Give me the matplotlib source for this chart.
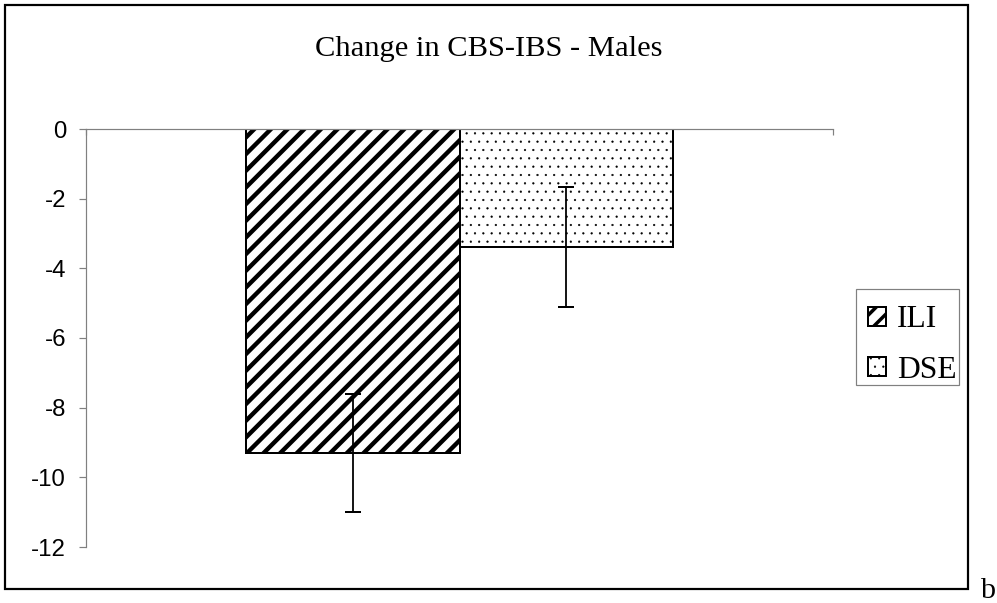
import matplotlib
matplotlib.use("Agg")
import matplotlib.pyplot as plt
from matplotlib.patches import Rectangle
import numpy as np

# ---- data ----
categories = [""]
series_names = ["ILI", "DSE"]
ili_values = [-9.3]
dse_values = [-3.38]
ili_err = [1.7]
dse_err = [1.72]
y_ticks = [0, -2, -4, -6, -8, -10, -12]
title = "Change in CBS-IBS - Males"
panel_label = "b"

DPI = 100
W, H = 997, 603


def px(v):
    """pixels -> points"""
    return v * 72.0 / DPI


fig = plt.figure(figsize=(W / DPI, H / DPI), dpi=DPI)
fig.patch.set_facecolor("white")

ax = fig.add_axes([86 / W, 1 - 547 / H, (833 - 86) / W, (547 - 129) / H])
ax.set_facecolor("none")

x = np.arange(len(categories))
width = 0.2857


def set_hlw(patches, lw):
    for p in patches:
        if hasattr(p, "set_hatch_linewidth"):
            p.set_hatch_linewidth(lw)


lw_ili = px(4.4)
lw_dse = px(0.5)
with plt.rc_context({"hatch.linewidth": lw_ili}):
    b1 = ax.bar(x - width / 2, ili_values, width, facecolor="white",
                edgecolor="black", linewidth=px(2), hatch="//", label=series_names[0],
                zorder=2)
set_hlw(b1.patches, lw_ili)
with plt.rc_context({"hatch.linewidth": lw_dse}):
    b2 = ax.bar(x + width / 2, dse_values, width, facecolor="white",
                edgecolor="black", linewidth=px(2), hatch="..", label=series_names[1],
                zorder=2)
set_hlw(b2.patches, lw_dse)

ax.errorbar(x - width / 2, ili_values, yerr=ili_err, fmt="none", ecolor="black",
            elinewidth=px(1.8), capsize=px(8), capthick=px(2), zorder=3)
ax.errorbar(x + width / 2, dse_values, yerr=dse_err, fmt="none", ecolor="black",
            elinewidth=px(1.8), capsize=px(8), capthick=px(2), zorder=3)

ax.set_xlim(-0.5, len(categories) - 0.5)
ax.set_ylim(-12, 0)

for s in ["right", "bottom"]:
    ax.spines[s].set_visible(False)
for s in ["left", "top"]:
    ax.spines[s].set_color("#808080")
    ax.spines[s].set_linewidth(px(1.2))

ax.xaxis.tick_top()
ax.set_xticks([-0.5, 0.5])
ax.set_xticklabels([])
ax.tick_params(axis="x", direction="in", length=px(6), color="#808080", width=px(1.2))

ax.set_yticks(y_ticks)
ax.set_yticklabels([str(t) for t in y_ticks])
ax.tick_params(axis="y", direction="out", length=px(7), color="#808080", width=px(1.2),
               pad=px(13), labelsize=px(24))
for lab in ax.get_yticklabels():
    lab.set_fontfamily("Liberation Sans")

# legend (entries) + separate frame box
leg = fig.legend(handles=[b1, b2], labels=series_names, loc="upper left",
                 bbox_to_anchor=(859 / W, 1 - 296 / H), bbox_transform=fig.transFigure,
                 borderaxespad=0, prop={"family": "Liberation Serif", "size": px(31.5)},
                 frameon=False,
                 handlelength=0.57, handleheight=0.57, handletextpad=0.34,
                 borderpad=0.3, labelspacing=0.68)
hs = getattr(leg, "legend_handles", None) or getattr(leg, "legendHandles", [])
if len(hs) == 2:
    set_hlw([hs[0]], px(3.5))
    set_hlw([hs[1]], lw_dse)

fig.add_artist(Rectangle((856 / W, 1 - 385 / H), (959 - 856) / W, (385 - 289) / H,
                         transform=fig.transFigure, fill=False, edgecolor="#808080",
                         linewidth=px(1.2)))

fig.add_artist(Rectangle((5 / W, 1 - 589 / H), (968 - 5) / W, (589 - 5) / H,
                         transform=fig.transFigure, fill=False, edgecolor="black",
                         linewidth=px(2.2)))

fig.text(489 / W, 1 - 56 / H, title, ha="center", va="baseline",
         fontfamily="Liberation Serif", fontsize=px(30.5))
fig.text(988 / W, 1 - 598 / H, panel_label, ha="center", va="baseline",
         fontfamily="Liberation Serif", fontsize=px(30))

fig.savefig("out.png", dpi=DPI, facecolor="white")
